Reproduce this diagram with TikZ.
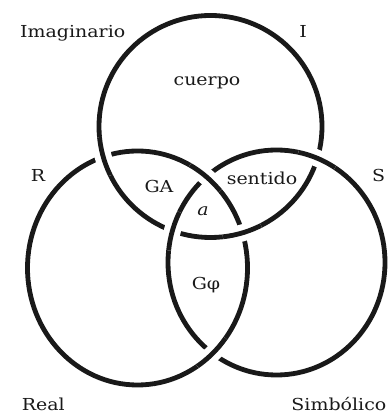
\documentclass[tikz,border=0pt]{standalone}
\usepackage{fontspec}
\setmainfont{DejaVu Serif}[FakeStretch=1.15]
\usetikzlibrary{intersections}
\begin{document}
\begin{tikzpicture}[x=1pt,y=1pt,
  ring/.style={line width=4.8pt, black!90},
  halo/.style={white, line width=17pt},
  lbl/.style={font=\fontsize{16.5}{19}\selectfont, inner sep=0pt, text=black!90}]
\useasboundingbox (0,0) rectangle (388,414);
\tikzset{
  ringI/.style={insert path={(210.5,287.5) ellipse [x radius=111.5, y radius=111]}},
  ringR/.style={insert path={(137.5,146) ellipse [x radius=110, y radius=117]}},
  ringS/.style={insert path={(276.5,151.5) ellipse [x radius=108.5, y radius=112.5]}}}
\draw[ring, name path=I, ringI];
\draw[ring, name path=R, ringR];
\draw[ring, name path=S, ringS];
\path[name intersections={of=I and R, name=ir}];
\path[name intersections={of=R and S, name=rs}];
\path[name intersections={of=S and I, name=si}];
% I over R
\foreach \p in {ir-1,ir-2}{
  \begin{scope}
    \clip (\p) circle (20);
    \draw[halo, ringI];
    \draw[ring, ringI];
  \end{scope}}
% R over S
\foreach \p in {rs-1,rs-2}{
  \begin{scope}
    \clip (\p) circle (20);
    \draw[halo, ringR];
    \draw[ring, ringR];
  \end{scope}}
% S over I
\foreach \p in {si-1,si-2}{
  \begin{scope}
    \clip (\p) circle (20);
    \draw[halo, ringS];
    \draw[ring, ringS];
  \end{scope}}
% labels
\node[lbl, anchor=base west] (imag) at (20,376.7) {Imaginario};
\node[lbl, anchor=base] (il) at (303,376.7) {I};
\node[lbl, anchor=base] (cuerpo) at (207,328) {cuerpo};
\node[lbl, anchor=base] (rl) at (38,232.3) {R};
\node[lbl, anchor=base west] (sl) at (372,232.3) {S};
\node[lbl, anchor=base] (ga) at (159,221) {GA};
\node[lbl, anchor=base] (sentido) at (262,229) {sentido};
\node[lbl, anchor=base] (objA) at (203,198) {\itshape a};
\node[lbl, anchor=base] (gphi) at (206,124) {Gφ};
\node[lbl, anchor=base west] (real) at (21.7,4) {Real};
\node[lbl, anchor=base east] (simb) at (386.5,4) {Simbólico};
\end{tikzpicture}
\end{document}
